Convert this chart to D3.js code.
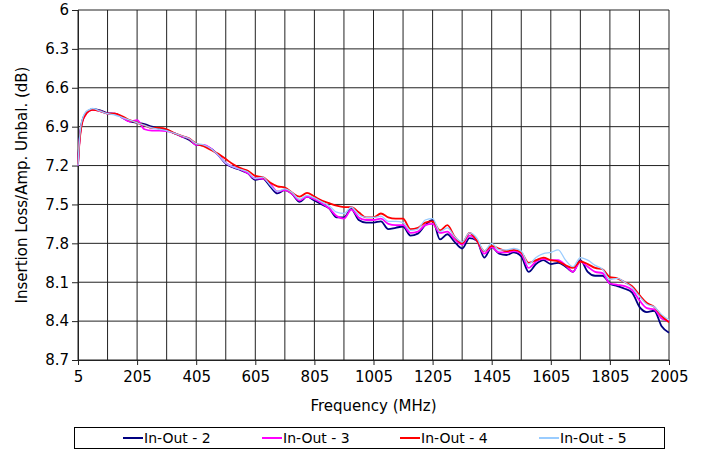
<!DOCTYPE html>
<html lang="en">
<head>
    <meta charset="UTF-8">
    <title>Insertion Loss / Amp. Unbal.</title>
    <script src="https://d3js.org/d3.v7.min.js"></script>
    <style>
        body {
            margin: 0;
            background: #fff;
            font-family: "DejaVu Sans", Verdana, sans-serif;
        }
        svg text {
            fill: #000;
        }
    </style>
</head>
<body>
    <div id="chart"></div>
    <script>
        // frequency points (MHz)
        const freq = [5, 10, 15, 20, 30, 42, 55, 80, 105, 130, 155, 180, 205, 230, 255, 280, 305, 330, 355, 380,
            405, 430, 455, 480, 505, 530, 555, 580, 605, 630, 655, 680, 705, 730, 755, 780, 805, 830, 855, 880,
            905, 930, 955, 980, 1005, 1030, 1055, 1080, 1105, 1130, 1155, 1180, 1205, 1230, 1255, 1280, 1305, 1330,
            1355, 1380, 1405, 1430, 1455, 1480, 1505, 1530, 1555, 1580, 1605, 1630, 1655, 1680, 1705, 1730, 1755,
            1780, 1805, 1830, 1855, 1880, 1905, 1930, 1955, 1980, 2005];

        const inOut2 = [7.19, 7.00, 6.90, 6.85, 6.80, 6.775, 6.765, 6.775, 6.795, 6.80, 6.83, 6.86, 6.87, 6.88, 6.90, 6.915, 6.925, 6.95, 6.975, 7.00,
            7.04, 7.045, 7.07, 7.12, 7.185, 7.215, 7.235, 7.26, 7.31, 7.30, 7.36, 7.415, 7.39, 7.42, 7.48, 7.44, 7.47, 7.50, 7.53, 7.60,
            7.60, 7.535, 7.62, 7.64, 7.64, 7.63, 7.69, 7.68, 7.67, 7.74, 7.725, 7.66, 7.62, 7.77, 7.73, 7.79, 7.84, 7.76,
            7.78, 7.91, 7.83, 7.88, 7.89, 7.87, 7.90, 8.02, 7.96, 7.93, 7.96, 7.95, 7.98, 8.02, 7.93, 8.02, 8.05,
            8.05, 8.11, 8.13, 8.15, 8.18, 8.29, 8.33, 8.32, 8.44, 8.49];

        const inOut3 = [7.20, 7.01, 6.91, 6.86, 6.81, 6.78, 6.77, 6.78, 6.80, 6.80, 6.83, 6.86, 6.85, 6.92, 6.93, 6.93, 6.935, 6.95, 6.975, 6.99,
            7.04, 7.04, 7.07, 7.12, 7.18, 7.21, 7.23, 7.26, 7.30, 7.30, 7.34, 7.40, 7.39, 7.42, 7.47, 7.44, 7.46, 7.49, 7.53, 7.59,
            7.61, 7.54, 7.60, 7.62, 7.62, 7.61, 7.65, 7.66, 7.66, 7.72, 7.71, 7.66, 7.65, 7.72, 7.71, 7.77, 7.81, 7.74,
            7.78, 7.88, 7.83, 7.87, 7.87, 7.86, 7.88, 7.99, 7.94, 7.92, 7.93, 7.93, 7.97, 8.02, 7.94, 7.98, 8.02,
            8.03, 8.11, 8.12, 8.13, 8.16, 8.24, 8.30, 8.31, 8.38, 8.40];

        const inOut4 = [7.19, 7.02, 6.92, 6.86, 6.81, 6.78, 6.77, 6.78, 6.80, 6.80, 6.82, 6.85, 6.87, 6.89, 6.91, 6.91, 6.92, 6.95, 6.97, 6.99,
            7.03, 7.05, 7.08, 7.11, 7.15, 7.19, 7.22, 7.24, 7.28, 7.29, 7.33, 7.36, 7.37, 7.41, 7.44, 7.41, 7.44, 7.47, 7.49, 7.51,
            7.52, 7.52, 7.56, 7.60, 7.60, 7.57, 7.60, 7.61, 7.61, 7.69, 7.68, 7.64, 7.63, 7.70, 7.66, 7.75, 7.80, 7.72,
            7.78, 7.86, 7.82, 7.84, 7.86, 7.85, 7.87, 7.95, 7.93, 7.91, 7.93, 7.94, 7.97, 7.99, 7.94, 7.96, 7.99,
            8.00, 8.06, 8.07, 8.10, 8.13, 8.20, 8.26, 8.29, 8.36, 8.41];

        const inOut5 = [7.20, 7.00, 6.89, 6.84, 6.79, 6.77, 6.76, 6.78, 6.80, 6.81, 6.83, 6.85, 6.87, 6.89, 6.91, 6.92, 6.93, 6.95, 6.97, 6.99,
            7.03, 7.04, 7.07, 7.12, 7.18, 7.21, 7.23, 7.25, 7.30, 7.29, 7.35, 7.40, 7.38, 7.41, 7.46, 7.43, 7.45, 7.48, 7.51, 7.56,
            7.57, 7.52, 7.58, 7.60, 7.60, 7.59, 7.63, 7.63, 7.64, 7.70, 7.69, 7.62, 7.61, 7.71, 7.68, 7.75, 7.79, 7.72,
            7.76, 7.86, 7.80, 7.85, 7.85, 7.84, 7.86, 7.96, 7.91, 7.88, 7.87, 7.85, 7.93, 7.98, 7.91, 7.93, 7.97,
            8.00, 8.08, 8.07, 8.10, 8.14, 8.21, 8.27, 8.29, 8.35, 8.39];

        const seriesNames = ['In-Out - 2', 'In-Out - 3', 'In-Out - 4', 'In-Out - 5'];
        const seriesValues = [inOut2, inOut3, inOut4, inOut5];
        const seriesColors = ['#000080', '#ff00ff', '#ff0000', '#99ccff'];

        const xTicks = [5, 205, 405, 605, 805, 1005, 1205, 1405, 1605, 1805, 2005];
        const xGrid = [105, 305, 505, 705, 905, 1105, 1305, 1505, 1705, 1905];
        const yTicks = [6, 6.3, 6.6, 6.9, 7.2, 7.5, 7.8, 8.1, 8.4, 8.7];

        const width = 704;
        const height = 451;
        const margin = { top: 10, right: 35, bottom: 91, left: 78 };
        const plotW = width - margin.left - margin.right;
        const plotH = height - margin.top - margin.bottom;

        const svg = d3.select('#chart')
            .append('svg')
            .attr('width', width)
            .attr('height', height);

        const x = d3.scaleLinear().domain([5, 2005]).range([0, plotW]);
        const y = d3.scaleLinear().domain([6, 8.7]).range([0, plotH]); // reversed axis: 6 at top

        const g = svg.append('g')
            .attr('transform', `translate(${margin.left},${margin.top})`);

        // grid
        const gridColor = '#222';
        g.selectAll('.vgrid')
            .data(xGrid.concat(xTicks))
            .enter().append('line')
            .attr('x1', d => x(d)).attr('x2', d => x(d))
            .attr('y1', 0).attr('y2', plotH)
            .attr('stroke', gridColor)
            .attr('stroke-width', 1);

        g.selectAll('.hgrid')
            .data(yTicks)
            .enter().append('line')
            .attr('x1', 0).attr('x2', plotW)
            .attr('y1', d => y(d)).attr('y2', d => y(d))
            .attr('stroke', gridColor)
            .attr('stroke-width', 1);

        // axes
        const xAxis = g.append('g')
            .attr('transform', `translate(0,${plotH})`)
            .call(d3.axisBottom(x).tickValues(xTicks).tickSize(5).tickPadding(6).tickFormat(d3.format('d')));
        const yAxis = g.append('g')
            .call(d3.axisLeft(y).tickValues(yTicks).tickSize(6).tickPadding(3).tickFormat(d => String(d)));

        [xAxis, yAxis].forEach(a => {
            a.select('.domain').attr('stroke', gridColor);
            a.selectAll('.tick line').attr('stroke', gridColor);
            a.selectAll('text')
                .style('font-family', '"DejaVu Sans", Verdana, sans-serif')
                .style('font-size', '15px')
                .attr('fill', '#000');
        });

        // lines
        const line = d3.line()
            .x((d, i) => x(freq[i]))
            .y(d => y(d))
            .curve(d3.curveMonotoneX);

        seriesValues.forEach((vals, k) => {
            g.append('path')
                .datum(vals)
                .attr('fill', 'none')
                .attr('stroke', seriesColors[k])
                .attr('stroke-width', k === 3 ? 1.3 : 1.8)
                .attr('d', line);
        });

        // axis titles
        svg.append('text')
            .attr('x', margin.left + plotW / 2)
            .attr('y', 411)
            .attr('text-anchor', 'middle')
            .style('font-size', '15px')
            .text('Frequency (MHz)');

        svg.append('text')
            .attr('transform', `translate(27,${margin.top + plotH / 2}) rotate(-90)`)
            .attr('text-anchor', 'middle')
            .style('font-size', '15px')
            .text('Insertion Loss/Amp. Unbal. (dB)');

        // legend
        const legend = svg.append('g');
        legend.append('rect')
            .attr('x', 74.5).attr('y', 427.5)
            .attr('width', 590).attr('height', 21)
            .attr('fill', '#fff')
            .attr('stroke', '#000')
            .attr('stroke-width', 1);

        const legendX = [123, 262, 400, 539];
        seriesNames.forEach((name, k) => {
            legend.append('line')
                .attr('x1', legendX[k]).attr('x2', legendX[k] + 20)
                .attr('y1', 438).attr('y2', 438)
                .attr('stroke', seriesColors[k])
                .attr('stroke-width', 2);
            legend.append('text')
                .attr('x', legendX[k] + 21)
                .attr('y', 443)
                .style('font-size', '14px')
                .text(name);
        });
    </script>
</body>
</html>
